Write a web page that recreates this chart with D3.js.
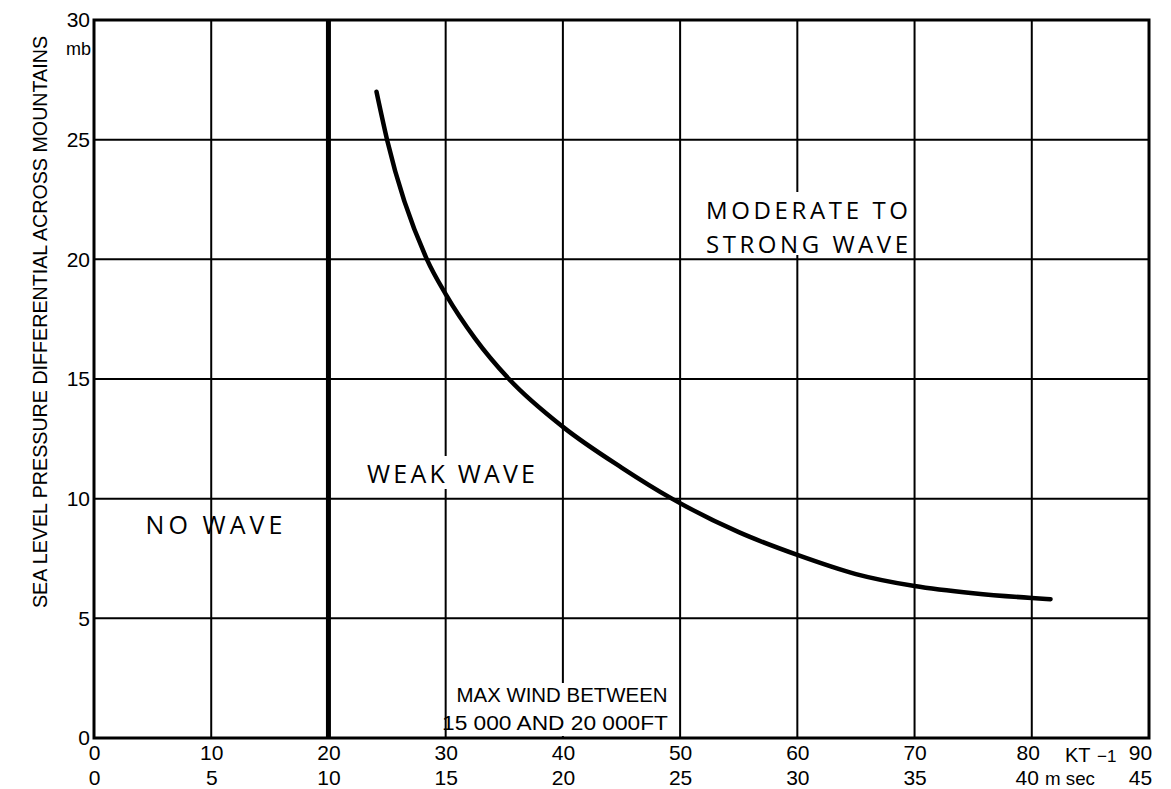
<!DOCTYPE html>
<meta charset="utf-8">
<style>
  body { margin: 0; background: #fff; }
  text { fill: #000; }
</style>

<!-- Load d3.js -->
<script src="https://d3js.org/d3.v7.min.js"></script>

<div id="chart"></div>

<script>
// tick values
const ktTicks = [0, 10, 20, 30, 40, 50, 60, 70, 80, 90];
const msTicks = [0, 5, 10, 15, 20, 25, 30, 35, 40, 45];
const mbTicks = [0, 5, 10, 15, 20, 25, 30];

// boundary curve between weak and moderate/strong wave
const curveKt = [24.1, 25.0, 28.4, 30.0, 32.5, 35.4, 40.0, 45.0, 49.3, 55.0, 60.0, 65.0, 70.0, 75.0, 80.0, 81.6];
const curveMb = [27.0, 25.0, 20.0, 18.55, 16.7, 15.0, 13.0, 11.3, 10.0, 8.6, 7.65, 6.85, 6.35, 6.05, 5.85, 5.8];

// no-wave limit
const minWindKt = 20;

var width = 1171, height = 789;

var svg = d3.select("#chart")
  .append("svg")
    .attr("width", width)
    .attr("height", height)
    .style("font-family", "'Liberation Sans', Arial, sans-serif");

var x = d3.scaleLinear().domain([0, 90]).range([94, 1149]);
var xMs = d3.scaleLinear().domain([0, 45]).range([94, 1149]);
var y = d3.scaleLinear().domain([0, 30]).range([738, 20]);

// grid
svg.append("g")
  .selectAll("line")
  .data(ktTicks.slice(1, -1))
  .join("line")
    .attr("x1", d => x(d)).attr("x2", d => x(d))
    .attr("y1", y(30)).attr("y2", y(0))
    .attr("stroke", "#000")
    .attr("stroke-width", 2);

svg.append("g")
  .selectAll("line")
  .data(mbTicks.slice(1, -1))
  .join("line")
    .attr("x1", x(0)).attr("x2", x(90))
    .attr("y1", d => y(d)).attr("y2", d => y(d))
    .attr("stroke", "#000")
    .attr("stroke-width", 2);

// frame
svg.append("rect")
  .attr("x", x(0)).attr("y", y(30))
  .attr("width", x(90) - x(0))
  .attr("height", y(0) - y(30))
  .attr("fill", "none")
  .attr("stroke", "#000")
  .attr("stroke-width", 3);

// thick no-wave line
svg.append("line")
  .attr("x1", x(minWindKt)).attr("x2", x(minWindKt))
  .attr("y1", y(30)).attr("y2", y(0))
  .attr("stroke", "#000")
  .attr("stroke-width", 5);

// curve
var pts = curveKt.map((k, i) => [k, curveMb[i]]);
svg.append("path")
  .datum(pts)
  .attr("d", d3.line()
    .x(d => x(d[0]))
    .y(d => y(d[1]))
    .curve(d3.curveMonotoneX))
  .attr("fill", "none")
  .attr("stroke", "#000")
  .attr("stroke-width", 4.5)
  .attr("stroke-linecap", "round");

// y axis labels
var yAxis = svg.append("g")
  .attr("transform", "translate(" + x(0) + ",0)")
  .call(d3.axisLeft(y).tickValues(mbTicks).tickSize(0).tickPadding(4));
yAxis.select(".domain").remove();
yAxis.selectAll("text")
  .style("font-family", "'Liberation Sans', Arial, sans-serif")
  .style("font-size", "21px")
  .attr("fill", "#000");

svg.append("text")
  .attr("x", 91).attr("y", 55)
  .attr("text-anchor", "end")
  .style("font-size", "18px")
  .text("mb");

svg.append("text")
  .attr("transform", "translate(47,322) rotate(-90)")
  .attr("text-anchor", "middle")
  .attr("textLength", 572)
  .attr("lengthAdjust", "spacingAndGlyphs")
  .style("font-size", "20px")
  .text("SEA LEVEL PRESSURE DIFFERENTIAL ACROSS MOUNTAINS");

// x axis labels, knots
var xAxis = svg.append("g")
  .attr("transform", "translate(0," + y(0) + ")")
  .call(d3.axisBottom(x).tickValues(ktTicks).tickSize(0).tickPadding(7));
xAxis.select(".domain").remove();
xAxis.selectAll("text")
  .style("font-family", "'Liberation Sans', Arial, sans-serif")
  .style("font-size", "21px")
  .attr("fill", "#000");
xAxis.selectAll(".tick").filter(d => d === 80).select("text").attr("dx", -4);
xAxis.selectAll(".tick").filter(d => d === 90).select("text").attr("dx", -9);

// x axis labels, m/s
var xAxis2 = svg.append("g")
  .attr("transform", "translate(0," + (y(0) + 25) + ")")
  .call(d3.axisBottom(xMs).tickValues(msTicks).tickSize(0).tickPadding(7));
xAxis2.select(".domain").remove();
xAxis2.selectAll("text")
  .style("font-family", "'Liberation Sans', Arial, sans-serif")
  .style("font-size", "21px")
  .attr("fill", "#000");
xAxis2.selectAll(".tick").filter(d => d === 40).select("text").attr("dx", -5);
xAxis2.selectAll(".tick").filter(d => d === 45).select("text").attr("dx", -9);

svg.append("text")
  .attr("x", 1065).attr("y", 762)
  .style("font-size", "20px")
  .text("KT");

svg.append("text")
  .attr("x", 1045).attr("y", 785)
  .attr("textLength", 50)
  .attr("lengthAdjust", "spacingAndGlyphs")
  .style("font-size", "19px")
  .text("m sec");
svg.append("text")
  .attr("x", 1097).attr("y", 762)
  .style("font-size", "17px")
  .text("\u22121");

// annotations
function label(lines, cx, top, size, len, box) {
  if (box) {
    svg.append("rect")
      .attr("x", box[0]).attr("y", box[1])
      .attr("width", box[2]).attr("height", box[3])
      .attr("fill", "#fff");
  }
  lines.forEach(function (t, i) {
    svg.append("text")
      .attr("x", cx)
      .attr("y", top + i * size * 1.4)
      .attr("text-anchor", "middle")
      .attr("textLength", len[i])
      .attr("lengthAdjust", "spacing")
      .style("font-family", "'Open Sans', 'DejaVu Sans', sans-serif")
      .style("font-size", size + "px")
      .text(t);
  });
}

label(["MODERATE TO", "STRONG WAVE"], 807, 219, 24, [202, 202], [700, 192, 208, 63]);
label(["WEAK WAVE"], 451, 483, 25, [168], [360, 456, 182, 33]);
label(["NO WAVE"], 214, 534, 25, [137], null);

// wind level note
svg.append("rect")
  .attr("x", 449).attr("y", 683)
  .attr("width", 226).attr("height", 53)
  .attr("fill", "#fff");
svg.append("text")
  .attr("x", 562).attr("y", 702)
  .attr("text-anchor", "middle")
  .attr("textLength", 211)
  .attr("lengthAdjust", "spacingAndGlyphs")
  .style("font-size", "20px")
  .text("MAX WIND BETWEEN");
svg.append("text")
  .attr("x", 555).attr("y", 730)
  .attr("text-anchor", "middle")
  .attr("textLength", 226)
  .attr("lengthAdjust", "spacingAndGlyphs")
  .style("font-size", "20px")
  .text("15 000 AND 20 000FT");
</script>
